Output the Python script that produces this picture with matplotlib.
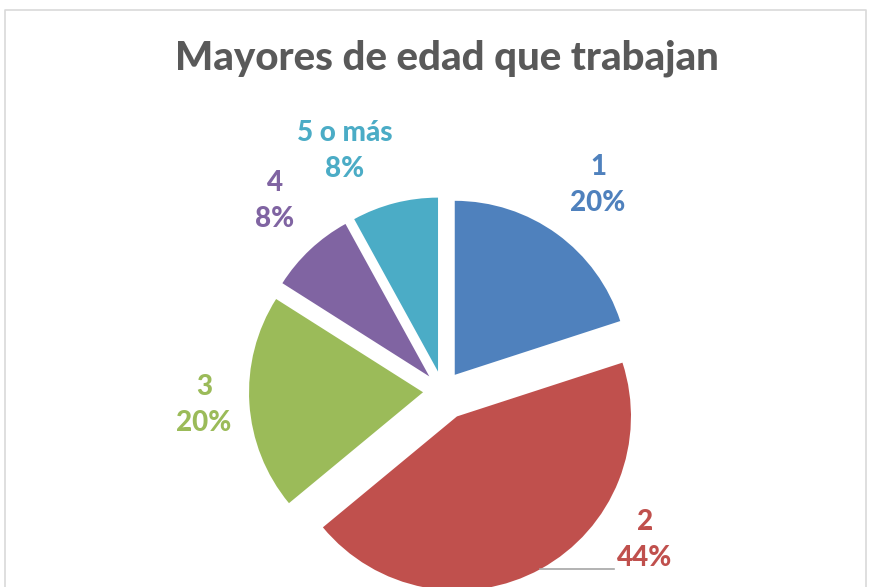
import matplotlib
matplotlib.use("Agg")
import matplotlib.pyplot as plt

# data
categorias = ["1", "2", "3", "4", "5 o más"]
valores = [20, 44, 20, 8, 8]
porcentajes = ["20%", "44%", "20%", "8%", "8%"]
colores = ["#4F81BD", "#C0504D", "#9BBB59", "#8064A2", "#4BACC6"]

plt.rcParams["font.family"] = ["Lato", "DejaVu Sans"]

W, H = 872, 587
fig = plt.figure(figsize=(W / 100, H / 100), dpi=100)
ax = fig.add_axes([0, 0, 1, 1])

# pie in pixel coordinates (y axis inverted -> data ccw looks clockwise)
centro = (443, 391)
radio = 174
separacion = [20, 29, 20, 20, 20]
ax.pie(valores, colors=colores, startangle=-90, counterclock=True,
       center=centro, radius=radio, explode=separacion,
       wedgeprops=dict(linewidth=0))

ax.set_xlim(0, W)
ax.set_ylim(H, 0)
ax.set_aspect("equal")
ax.axis("off")

# chart border
ax.plot([5, 5, 866, 866], [H, 10, 10, H], color="#D9D9D9", lw=1.2,
        clip_on=False)

ax.text(447, 58, "Mayores de edad que trabajan", ha="center", va="center",
        fontsize=29, fontweight="black", color="#595959")

# labels
pos_etiquetas = [(598, 185), (645, 540), (204, 405), (275, 201), (345, 151)]
for (x, y), cat, pct, c in zip(pos_etiquetas, categorias, porcentajes, colores):
    ax.text(x, y, cat + "\n" + pct, ha="center", va="center", fontsize=20,
            fontweight="black", color=c, linespacing=1.5)

# leader line for slice 2
ax.plot([540, 614], [569, 569], color="#A6A6A6", lw=1.2)

fig.savefig("out.png", dpi=100, facecolor="white")
